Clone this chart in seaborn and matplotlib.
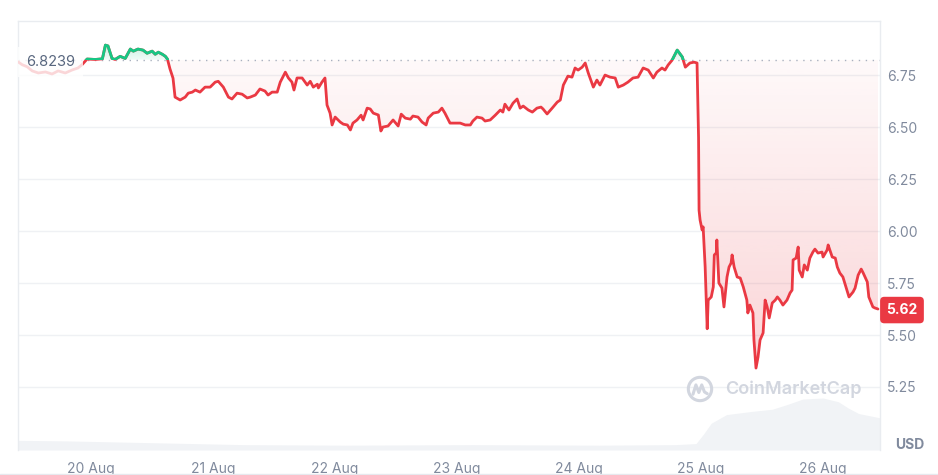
import numpy as np
import matplotlib
matplotlib.use("Agg")
import matplotlib.pyplot as plt
import matplotlib.transforms as mtransforms
from matplotlib.colors import to_rgb
from matplotlib.patches import Polygon, Rectangle, Circle
import seaborn as sns

# hours since 20 Aug 00:00, price in USD
hours = [
    -14.4, -13.6, -12.6, -11.6, -10.4, -9.0, -7.7, -6.5, -5.1, -3.7, -2.6, -1.8, -0.8,
    0.8, 2.2, 2.8, 3.3, 4.1, 4.7, 5.7, 6.7, 7.7, 8.3, 9.2, 10.2, 11.0, 12.0, 12.6,
    13.2, 14.0, 14.6, 15.0, 15.5, 16.1, 16.5, 17.5, 18.5, 19.1, 19.9, 20.5, 21.4,
    22.4, 23.4, 24.4, 25.0, 26.0, 27.0, 27.7, 28.7, 29.7, 30.7, 31.3, 32.3, 33.2,
    34.2, 34.8, 35.6, 36.6, 37.2, 38.2, 38.8, 39.5, 39.9, 40.5, 41.5, 42.5, 43.1,
    43.7, 44.5, 44.7, 45.4, 46.0, 46.4, 47.0, 47.4, 48.0, 49.0, 49.6, 50.4, 51.0,
    51.5, 52.3, 53.1, 53.5, 54.3, 54.9, 55.5, 56.5, 57.0, 57.4, 58.4, 59.4, 60.4,
    61.0, 61.8, 62.8, 63.3, 64.3, 65.1, 65.9, 66.3, 67.3, 68.3, 69.0, 69.6, 70.6,
    71.6, 72.6, 73.6, 74.6, 75.1, 75.9, 76.9, 77.5, 78.5, 79.5, 80.5, 81.0, 81.4,
    82.2, 83.0, 83.8, 84.4, 85.0, 86.0, 86.8, 87.7, 88.5, 88.9, 89.7, 90.7, 91.7,
    92.3, 92.9, 93.8, 94.6, 95.2, 95.8, 96.6, 97.2, 97.8, 98.8, 99.5, 100.1, 101.1,
    102.1, 103.1, 103.7, 104.7, 105.6, 106.6, 107.6, 108.6, 109.6, 110.6, 111.3,
    112.3, 112.9, 113.5, 114.3, 115.3, 116.3, 116.9, 117.8, 118.6, 119.2, 119.5,
    119.6, 119.8, 120.2, 120.4, 120.8, 121.2, 121.4, 122.0, 122.4, 122.6, 123.0,
    123.1, 123.5, 124.1, 124.5, 125.1, 125.5, 125.9, 126.1, 126.5, 127.1, 127.7,
    128.3, 129.0, 129.2, 129.6, 130.2, 130.4, 130.8, 131.2, 131.6, 132.2, 132.6,
    133.0, 133.4, 134.0, 134.6, 135.0, 135.5, 136.1, 136.9, 137.5, 137.9, 138.1,
    138.7, 139.1, 139.3, 139.9, 140.3, 140.9, 141.4, 142.0, 142.4, 143.0, 143.8,
    144.0, 144.8, 145.0, 145.8, 146.4, 146.8, 147.3, 147.9, 148.5, 149.1, 149.9,
    150.3, 150.9, 151.5, 151.9, 152.7, 153.0, 153.8, 154.2, 154.8,
]
price = [
    6.814, 6.800, 6.790, 6.770, 6.760, 6.765, 6.755, 6.770, 6.760, 6.775, 6.784, 6.800, 6.827,
    6.825, 6.828, 6.894, 6.890, 6.830, 6.825, 6.840, 6.830, 6.875, 6.865, 6.875, 6.870, 6.855, 6.865, 6.850,
    6.860, 6.850, 6.840, 6.827, 6.780, 6.735, 6.644, 6.630, 6.644, 6.663, 6.668, 6.678, 6.668,
    6.692, 6.692, 6.716, 6.720, 6.692, 6.644, 6.635, 6.663, 6.658, 6.640, 6.644, 6.654, 6.683,
    6.673, 6.654, 6.668, 6.668, 6.716, 6.764, 6.736, 6.716, 6.678, 6.736, 6.736, 6.702, 6.720,
    6.692, 6.706, 6.688, 6.716, 6.736, 6.606, 6.567, 6.510, 6.548, 6.524, 6.514, 6.510, 6.486,
    6.519, 6.534, 6.557, 6.534, 6.591, 6.587, 6.567, 6.558, 6.481, 6.500, 6.505, 6.534, 6.505,
    6.562, 6.543, 6.538, 6.553, 6.548, 6.524, 6.510, 6.543, 6.567, 6.572, 6.591, 6.567, 6.519,
    6.519, 6.519, 6.510, 6.510, 6.529, 6.548, 6.543, 6.529, 6.534, 6.557, 6.582, 6.572, 6.610,
    6.582, 6.615, 6.635, 6.591, 6.601, 6.582, 6.572, 6.591, 6.596, 6.587, 6.563, 6.591, 6.620,
    6.630, 6.702, 6.745, 6.740, 6.784, 6.774, 6.788, 6.808, 6.760, 6.692, 6.726, 6.702, 6.750,
    6.740, 6.736, 6.692, 6.702, 6.716, 6.736, 6.740, 6.784, 6.774, 6.736, 6.764,
    6.784, 6.774, 6.798, 6.822, 6.870, 6.837, 6.788, 6.808, 6.812, 6.808, 6.450,
    6.100, 6.053, 6.005, 6.020, 5.827, 5.530, 5.668, 5.683, 5.731, 5.885, 5.895,
    5.957, 5.750, 5.726, 5.635, 5.779, 5.827, 5.846, 5.885, 5.827, 5.779, 5.774,
    5.731, 5.668, 5.606, 5.644, 5.606, 5.476, 5.341, 5.394, 5.476, 5.510, 5.668,
    5.635, 5.582, 5.654, 5.668, 5.683, 5.668, 5.644, 5.668, 5.702, 5.716, 5.861,
    5.870, 5.923, 5.812, 5.779, 5.837, 5.812, 5.870, 5.899, 5.913, 5.894, 5.899,
    5.875, 5.909, 5.933, 5.875, 5.870, 5.827, 5.798, 5.779, 5.731, 5.683, 5.707,
    5.726, 5.788, 5.817, 5.798, 5.755, 5.683, 5.635, 5.630, 5.625,
]

# 24h volume strip along the bottom (million USD)
vol_hours = [-14.4, -5, 10, 30, 50, 75, 100, 115, 119, 120.5, 122, 125, 130, 134,
             137, 140, 144, 147, 149, 151, 155.2]
volume = [1.8, 1.7, 1.4, 1.0, 0.9, 1.0, 0.9, 1.0, 1.2, 3.0, 5.0, 6.6, 7.2, 7.6,
          8.5, 9.5, 9.7, 9.0, 7.8, 6.8, 6.0]

ref_price = 6.8239
last_price = 5.62
day_ticks = [0, 24, 48, 72, 96, 120, 144]
day_labels = ["20 Aug", "21 Aug", "22 Aug", "23 Aug", "24 Aug", "25 Aug", "26 Aug"]
price_ticks = [5.25, 5.50, 5.75, 6.00, 6.25, 6.50, 6.75]

RED = "#ea3943"
GREEN = "#16c784"
TEXT = "#808a9d"
MARK = "#d2d6df"
X0, X1 = -14.4, 155.2
Y0, Y1 = 4.947, 7.010


def gradient_fill(ax, t, p, base, color, below, a_base, a_far, y_far):
    t = np.asarray(t)
    p = np.asarray(p)
    edge = np.minimum(p, base) if below else np.maximum(p, base)
    verts = np.column_stack([np.r_[t, t[::-1]],
                             np.r_[edge, np.full(len(t), base)]])
    poly = Polygon(verts, closed=True, fc="none", ec="none",
                   transform=ax.transData)
    ax.add_patch(poly)
    n = 256
    rgba = np.zeros((n, 1, 4))
    rgba[..., :3] = to_rgb(color)
    if below:
        rgba[:, 0, 3] = np.linspace(a_far, a_base, n)
        lo, hi = y_far, base
    else:
        rgba[:, 0, 3] = np.linspace(a_base, a_far, n)
        lo, hi = base, y_far
    im = ax.imshow(rgba, extent=[t[0], t[-1], lo, hi], origin="lower",
                   aspect="auto", interpolation="bilinear", zorder=1)
    im.set_clip_path(poly)


sns.set_style("white")
plt.rcParams["font.family"] = ["Inter", "DejaVu Sans"]

fig = plt.figure(figsize=(9.38, 4.75), dpi=100)
rect = [18 / 938, 25 / 475, 862 / 938, 429 / 475]

# volume behind the price
vax = fig.add_axes(rect)
vax.fill_between(vol_hours, volume, color="#f1f3f6", lw=0)
vax.set_xlim(X0, X1)
vax.set_ylim(0, 80)
vax.axis("off")

ax = fig.add_axes(rect)
ax.patch.set_alpha(0)

gradient_fill(ax, hours, price, ref_price, RED, True, 0.03, 0.22, 5.3)
gradient_fill(ax, hours, price, ref_price, GREEN, False, 0.06, 0.25, 6.9)

sns.lineplot(x=hours, y=price, ax=ax, color=RED, lw=2.0, estimator=None,
             zorder=3)
sns.lineplot(x=hours, y=price, ax=ax, color=GREEN, lw=2.0, estimator=None,
             zorder=4)
green_line = ax.lines[-1]
green_line.set_clip_path(Rectangle((X0, ref_price), X1 - X0, Y1 - ref_price,
                                   transform=ax.transData))

ax.axhline(ref_price, color="#a9b1bf", lw=1, ls=(0, (1, 4)), zorder=2)

blend = mtransforms.blended_transform_factory(ax.transAxes, ax.transData)
ax.text(0.0095, ref_price - 0.012, "6.8239", transform=blend, ha="left",
        va="center", fontsize=10.5, color="#58667e", zorder=6,
        bbox=dict(boxstyle="square,pad=0.55", fc="white", ec="none", alpha=0.8))

ax.set_xlim(X0, X1)
ax.set_ylim(Y0, Y1)
ax.set_xticks(day_ticks)
ax.set_xticklabels(day_labels)
ax.set_yticks(price_ticks)
ax.set_yticklabels([f"{v:.2f}" for v in price_ticks])
ax.yaxis.tick_right()
ax.tick_params(axis="y", length=0, pad=5, labelsize=10, labelcolor=TEXT)
ax.tick_params(axis="x", length=0, pad=9, labelsize=10, labelcolor=TEXT)
ax.set_xlabel("")
ax.set_ylabel("")
ax.set_axisbelow(True)
ax.grid(axis="y", color="#eff1f4", lw=1)
ax.grid(axis="x", visible=False)
for side in ["top", "left", "right"]:
    ax.spines[side].set_color("#e9ecf0")
    ax.spines[side].set_linewidth(1)
ax.spines["bottom"].set_visible(False)

# last price tag
ax.text(1.0255, last_price, f"{last_price:.2f}", transform=blend, ha="center",
        va="center", fontsize=10, fontweight="bold", color="white", zorder=7,
        clip_on=False,
        bbox=dict(boxstyle="round,pad=0.45,rounding_size=0.3", fc=RED, ec="none"))

fig.text(910 / 938, 1 - 445 / 475, "USD", ha="center", va="center",
         fontsize=10, fontweight="bold", color=TEXT)

# watermark
fig.text(725 / 938, 1 - 389 / 475, "CoinMarketCap", ha="left", va="center",
         fontsize=13, fontweight="semibold", color=MARK)
lax = fig.add_axes([686 / 938, (475 - 403) / 475, 28 / 938, 28 / 475])
lax.set_xlim(-1.2, 1.2)
lax.set_ylim(-1.2, 1.2)
lax.set_aspect("equal")
lax.axis("off")
lax.add_patch(Circle((0, 0), 1.0, fc="none", ec=MARK, lw=2.2))
lax.plot([-0.6, -0.35, -0.1, 0.15, 0.38, 0.62],
         [-0.45, 0.35, -0.3, 0.35, -0.25, -0.4], color=MARK, lw=2.2,
         solid_joinstyle="round", solid_capstyle="round")

fig.add_artist(plt.Line2D([0, 1], [1.5 / 475, 1.5 / 475], color="#e6e9ee", lw=1))

fig.savefig("out.png", dpi=100)
